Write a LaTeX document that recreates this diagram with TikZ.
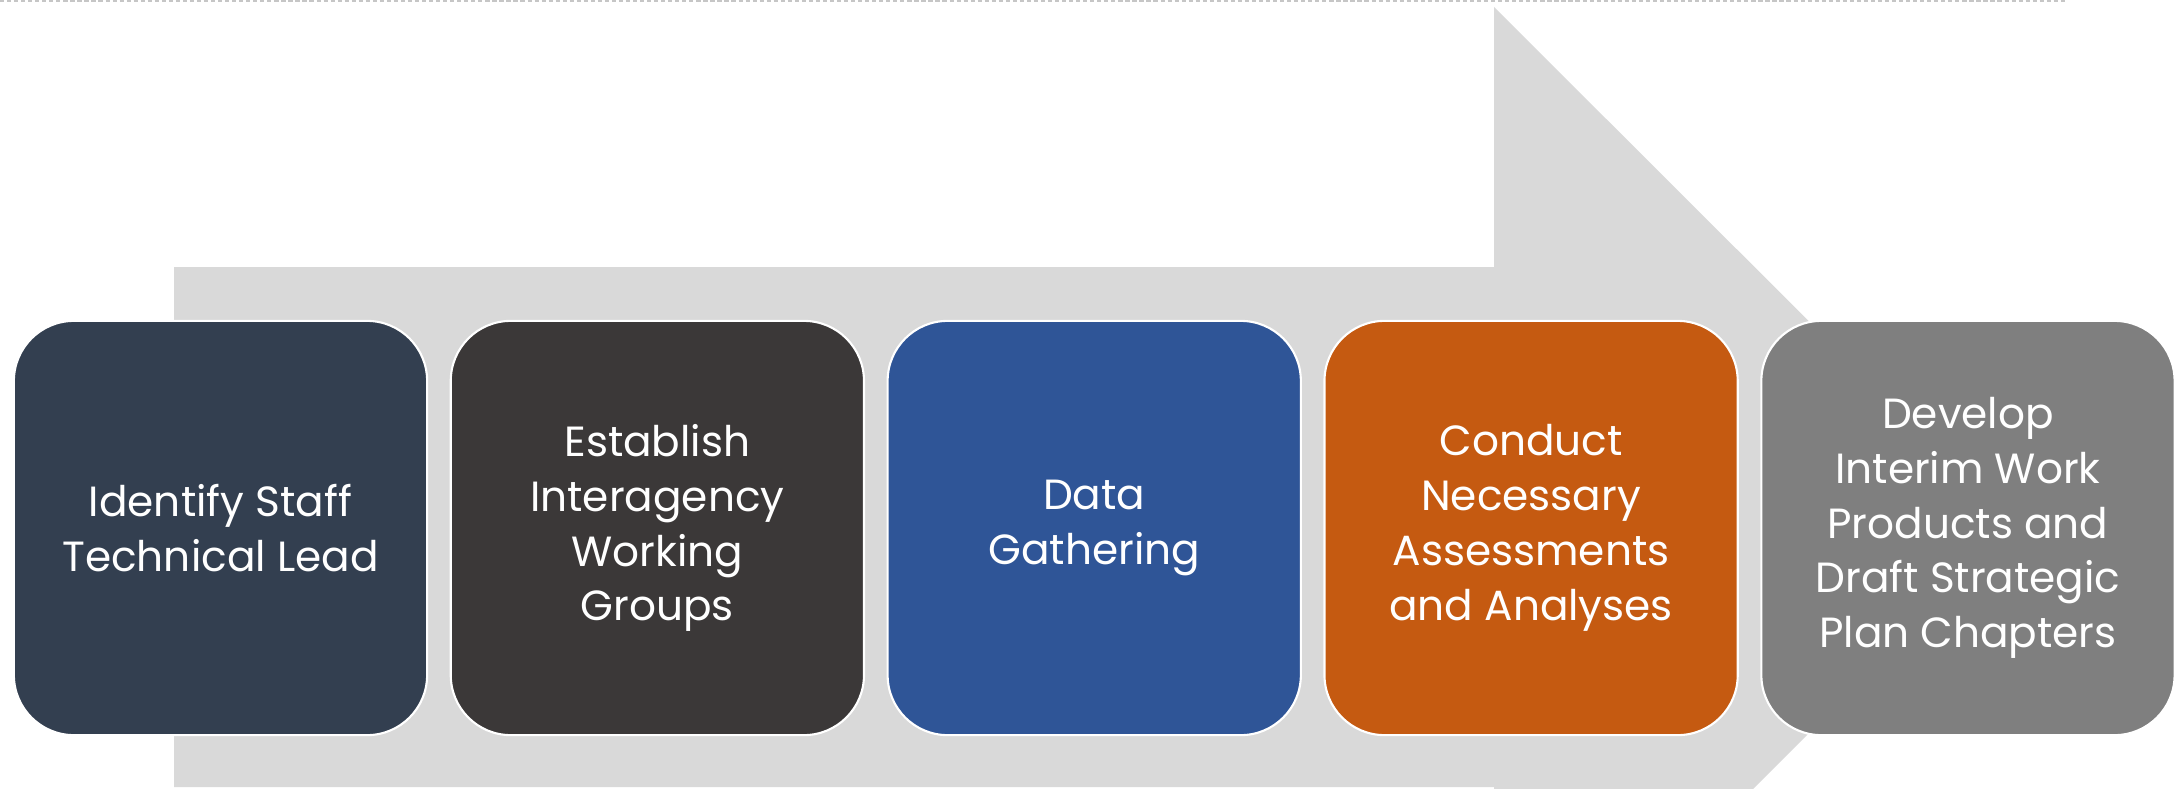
\documentclass[tikz,border=0pt]{standalone}
\usepackage{fontspec}
\setmainfont{Poppins}
\usepackage{tikz}
\usetikzlibrary{positioning}

\definecolor{flowgray}{HTML}{D9D9D9}
\definecolor{stepslate}{HTML}{333F50}
\definecolor{stepcoal}{HTML}{3B3838}
\definecolor{stepblue}{HTML}{2F5597}
\definecolor{steporange}{HTML}{C55A11}
\definecolor{stepgray}{HTML}{7F7F7F}

\tikzset{
    stepbox/.style={draw=white, line width=0.6pt, rounded corners=0.6cm,
        minimum width=4.13cm, minimum height=4.14cm, inner sep=0pt,
        align=center, text=white, font=\fontsize{12}{15.6}\selectfont},
    flowarrow/.style={fill=flowgray}
}

\begin{document}
\begin{tikzpicture}[x=0.01cm, y=-0.01cm]
    \useasboundingbox (0,0) rectangle (2183,788);
    \draw[gray!45, line width=0.4pt, dash pattern=on 1.2pt off 0.8pt] (0,1) -- (2065,1); % Dotted top rule

    % Bent arrow behind the steps
    \begin{scope}
        \clip (0,0) rectangle (2183,788);
        \fill[flowarrow] (174,267) -- (1494,267) -- (1494,7) -- (2015,527)
            -- (1494,1048) -- (1494,787) -- (174,787) -- cycle;
    \end{scope}

    \foreach \i/\col/\txt in {1/stepslate/{Identify Staff\\Technical Lead},
                             2/stepcoal/{Establish\\Interagency\\Working\\Groups},
                             3/stepblue/{Data\\Gathering},
                             4/steporange/{Conduct\\Necessary\\Assessments\\and Analyses},
                             5/stepgray/{Develop\\Interim Work\\Products and\\Draft Strategic\\Plan Chapters}} {
        \ifnum\i=1
            \node[stepbox, fill=\col] (s\i) at (220.5,528) {\txt}; % First step
        \else
            \pgfmathtruncatemacro\prev{\i-1}
            \node[stepbox, fill=\col, right=0.215cm of s\prev] (s\i) {\txt}; % Next steps in a row
        \fi
    }
\end{tikzpicture}
\end{document}
